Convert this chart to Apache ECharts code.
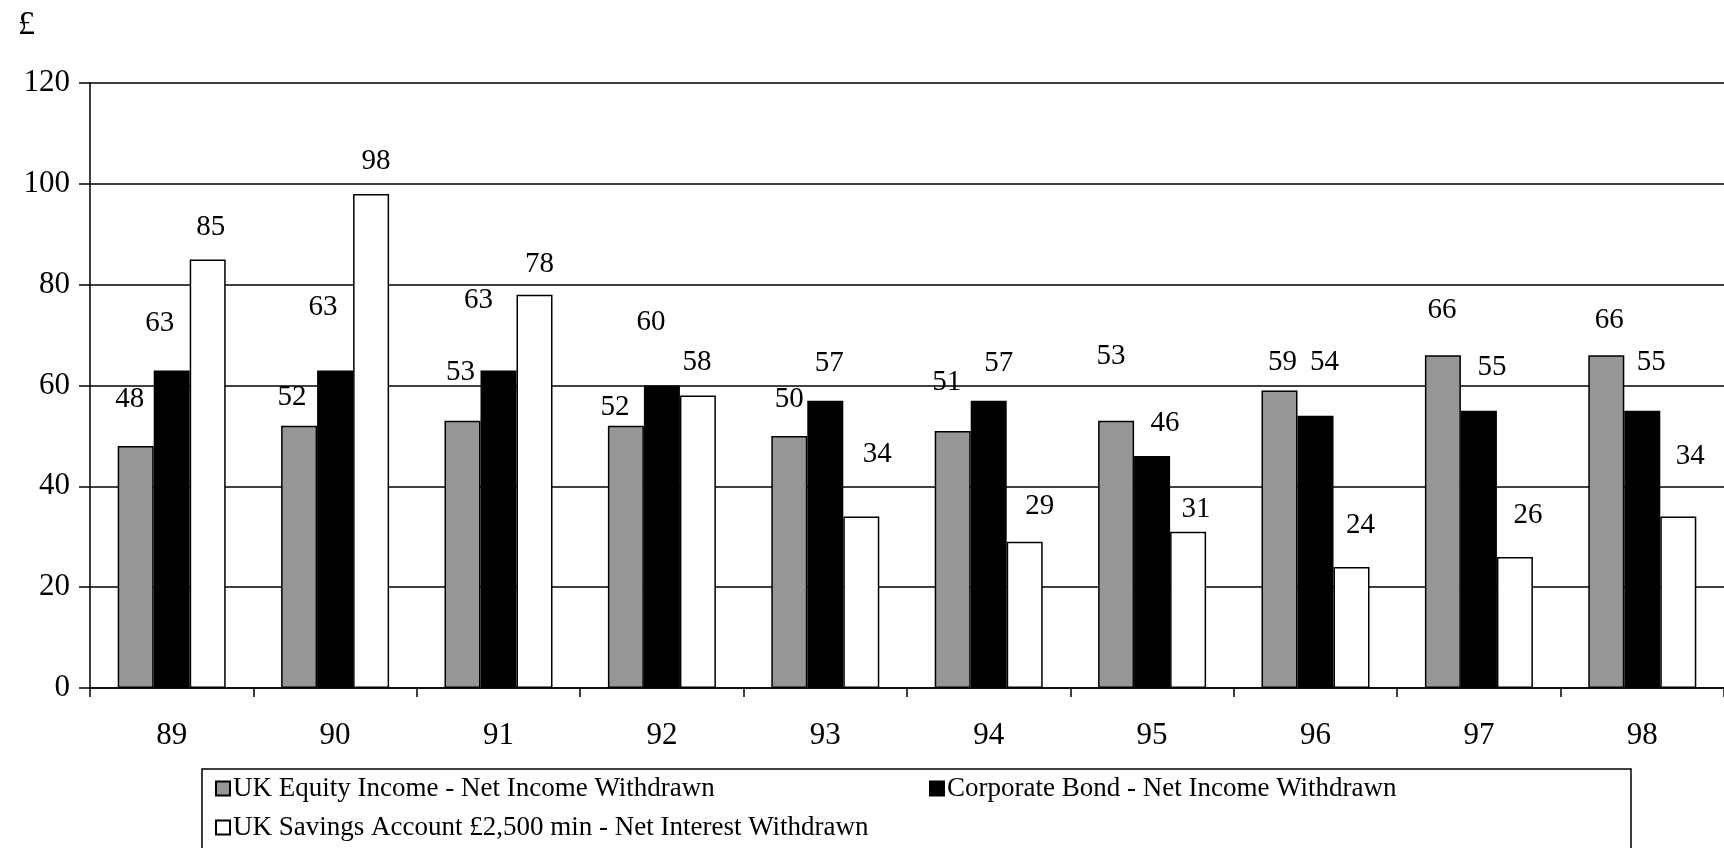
<!DOCTYPE html>
<html>
<head>
<meta charset="utf-8">
<script src="https://cdn.jsdelivr.net/npm/echarts@6/dist/echarts.min.js"></script>
<style>
html,body{margin:0;padding:0;background:#fff;}
#chart{width:1724px;height:848px;}
</style>
</head>
<body>
<div id="chart"></div>
<script>
const categories = ['89', '90', '91', '92', '93', '94', '95', '96', '97', '98'];
const seriesNames = [
  'UK Equity Income - Net Income Withdrawn',
  'Corporate Bond - Net Income Withdrawn',
  'UK Savings Account £2,500 min - Net Interest Withdrawn'
];
const equityIncome = [48, 52, 53, 52, 50, 51, 53, 59, 66, 66];
const corporateBond = [63, 63, 63, 60, 57, 57, 46, 54, 55, 55];
const savingsAccount = [85, 98, 78, 58, 34, 29, 31, 24, 26, 34];
const yMin = 0, yMax = 120, yStep = 20;

// label nudges (layout only, kept apart from the values)
const equityLabelNudge = [[-6,-32],[-7,-14],[-2,-34],[-11,-4],[0,-22],[-6,-34],[-5,-50],[3,-14],[-1,-30],[3,-20]];
const bondLabelNudge = [[-12,-32],[-12,-48],[-20,-55],[-11,-49],[4,-23],[10,-23],[13,-18],[9,-39],[13,-29],[9,-34]];
const savingsLabelNudge = [[3,-18],[5,-18],[5,-16],[-1,-19],[16,-48],[15,-21],[8,-8],[9,-27],[13,-27],[12,-46]];

const FONT = 'Liberation Serif';

function withNudge(values, nudges) {
  return values.map((v, i) => ({ value: v, label: { offset: nudges[i] } }));
}

function barSeries(name, values, nudges, fill) {
  return {
    name: name,
    type: 'bar',
    barWidth: 36,
    barGap: '0%',
    data: withNudge(values, nudges),
    itemStyle: { color: fill, borderColor: '#000', borderWidth: 1.5 },
    label: {
      show: true, position: 'top', distance: 0,
      color: '#000', fontFamily: FONT, fontSize: 29
    },
    emphasis: { disabled: true },
    animation: false
  };
}

const chart = echarts.init(document.getElementById('chart'), null, { renderer: 'canvas' });
chart.setOption({
  backgroundColor: '#fff',
  animation: false,
  title: {
    text: '£', left: 13, top: 3,
    textStyle: { fontFamily: FONT, fontSize: 34, fontWeight: 'normal', color: '#000' }
  },
  grid: { left: 90, top: 83, width: 1640, bottom: 160, containLabel: false },
  xAxis: {
    type: 'category',
    data: categories,
    boundaryGap: true,
    axisLine: { show: true, lineStyle: { color: '#000', width: 1.5 } },
    axisTick: { show: true, length: 9, inside: false, alignWithLabel: false, lineStyle: { color: '#000', width: 1.5 } },
    axisLabel: { color: '#000', fontFamily: FONT, fontSize: 31, margin: 32 },
    splitLine: { show: false }
  },
  yAxis: {
    type: 'value',
    min: yMin, max: yMax, interval: yStep,
    axisLine: { show: true, lineStyle: { color: '#000', width: 1.5 } },
    axisTick: { show: true, length: 11, lineStyle: { color: '#000', width: 1.5 } },
    axisLabel: { color: '#000', fontFamily: FONT, fontSize: 31, margin: 20 },
    splitLine: { show: true, lineStyle: { color: '#000', width: 1.5 } }
  },
  legend: {
    data: seriesNames,
    left: 202, top: 769,
    orient: 'horizontal',
    width: 1430,
    padding: [6, 0, 40, 13],
    itemGap: 12,
    itemWidth: 14, itemHeight: 14,
    icon: 'rect',
    borderColor: '#000', borderWidth: 1.5,
    backgroundColor: '#fff',
    selectedMode: false,
    textStyle: { color: '#000', fontFamily: FONT, fontSize: 27, lineHeight: 17, width: 684, overflow: 'none', padding: [0, 0, 0, -2] }
  },
  series: [
    barSeries(seriesNames[0], equityIncome, equityLabelNudge, '#969696'),
    barSeries(seriesNames[1], corporateBond, bondLabelNudge, '#000000'),
    barSeries(seriesNames[2], savingsAccount, savingsLabelNudge, '#ffffff')
  ]
});
</script>
</body>
</html>
